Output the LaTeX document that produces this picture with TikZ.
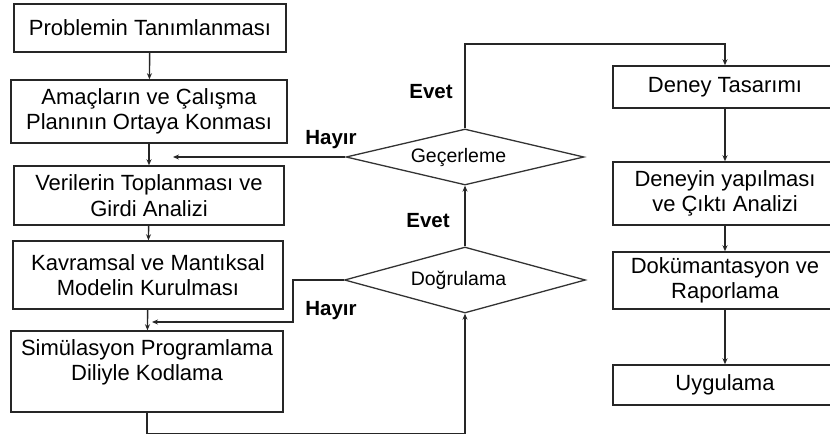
\documentclass[tikz,border=0pt]{standalone}
\usepackage{fontspec}
\setmainfont{Liberation Sans}
\usetikzlibrary{shapes.geometric,arrows.meta}
\begin{document}
\begin{tikzpicture}[x=1pt,y=-1pt,
  stepbox/.style={draw=black!85, line width=1.5pt, align=center, inner sep=0pt,
    font=\fontsize{22}{25.5}\selectfont},
  decision/.style={diamond, aspect=4.2, draw=black!80, line width=1.3pt, inner sep=0pt,
    font=\fontsize{19.5}{22}\selectfont},
  flow/.style={draw=black!85, line width=1.4pt, -{Stealth[length=6pt,width=5pt]}},
  answer/.style={font=\bfseries\fontsize{20.5}{24}\selectfont},
]
\useasboundingbox (0,0) rectangle (830,437);
\clip (0,0) rectangle (830,437);

% left column: modelling steps
\node[stepbox, minimum width=272pt, minimum height=48pt] (b1) at (150,28) {Problemin Tanımlanması};
\node[stepbox, minimum width=276pt, minimum height=63pt] (b2) at (149,111.5) {Amaçların ve  Çalışma\\Planının Ortaya  Konması};
\node[stepbox, minimum width=270pt, minimum height=59pt] (b3) at (149,195.5) {Verilerin Toplanması ve\\Girdi Analizi};
\node[stepbox, minimum width=270pt, minimum height=68pt] (b4) at (148,275) {Kavramsal ve Mantıksal\\Modelin Kurulması};
\node[stepbox, minimum width=272pt, minimum height=81pt] (b5) at (147,371.5) {};
\node[align=center, font=\fontsize{22}{25.5}\selectfont, anchor=north] (b5t) at (147,336) {Simülasyon Programlama\\Diliyle Kodlama};

% decisions (labels sit a little left of centre)
\node[decision, minimum width=238pt, minimum height=56pt] (d1) at (465,157) {Geçerleme\hspace*{13pt}};
\node[decision, minimum width=241pt, minimum height=66pt] (d2) at (465,280) {Doğrulama\hspace*{13pt}};

% right column: experiments
\node[stepbox, minimum width=224pt, minimum height=42pt] (r1) at (725,87) {Deney Tasarımı};
\node[stepbox, minimum width=224pt, minimum height=63pt] (r2) at (725,193.5) {Deneyin yapılması\\ve  Çıktı Analizi};
\node[stepbox, minimum width=224pt, minimum height=57pt] (r3) at (725,280.5) {Dokümantasyon ve\\Raporlama};
\node[stepbox, minimum width=224pt, minimum height=40pt] (r4) at (725,385) {Uygulama};

% loose ends of the "no" branches
\coordinate (hayir1) at (173,157);
\coordinate (hayir2) at (152,322);
\coordinate (evettop) at (465,44);

% main flow
\draw[flow] (b1) -- (b2);
\draw[flow] (b2) -- (b3);
\draw[flow] (b3) -- (b4);
\draw[flow] (b4) -- (b5);
\draw[flow] (b5.south) -- ++(0,21) -| (d2.south);
\draw[flow] (d2.north) -- (d1.south);
\draw[flow] (d1.north) -- (evettop) -| (r1.north);
\draw[flow] (r1) -- (r2);
\draw[flow] (r2) -- (r3);
\draw[flow] (r3) -- (r4);

% feedback loops
\draw[flow] (d1.west) -- (hayir1);
\draw[flow] (d2.west) -- ++(-51,0) |- (hayir2);

% branch labels
\node[answer] (h1) at (331,140) {Hayır};
\node[answer] (h2) at (331,311) {Hayır};
\node[answer] (e1) at (431,92) {Evet};
\node[answer] (e2) at (428,221) {Evet};
\end{tikzpicture}
\end{document}
